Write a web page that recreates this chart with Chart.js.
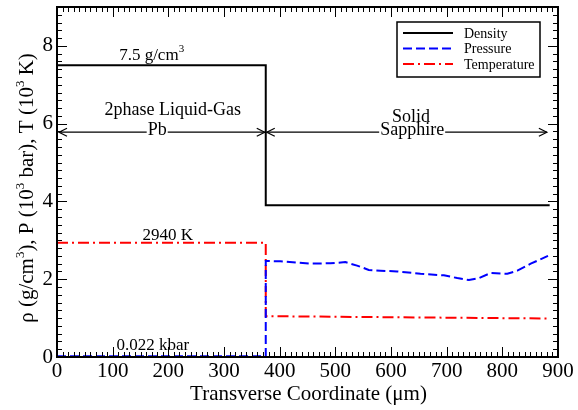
<!DOCTYPE html>
<html>
<head>
<meta charset="utf-8">
<script src="https://cdn.jsdelivr.net/npm/chart.js@4.4.1/dist/chart.umd.min.js"></script>
<style>
  html, body { margin: 0; padding: 0; background: #fff; }
  #wrap { width: 578px; height: 410px; }
</style>
</head>
<body>
<div id="wrap"><canvas id="chart" width="578" height="410"></canvas></div>
<script>
// values (x in um, y in g/cm3, 10^3 bar, 10^3 K)
const densityX = [0, 375, 375, 885];
const densityY = [7.5, 7.5, 3.9, 3.9];

const pressureX = [0, 375, 375, 401, 455, 491, 518, 539, 560, 581, 611, 653, 695, 719, 740, 758, 779, 809, 827, 851, 882];
const pressureY = [0.022, 0.022, 2.47, 2.46, 2.40, 2.41, 2.44, 2.35, 2.24, 2.22, 2.20, 2.14, 2.10, 2.03, 1.98, 2.03, 2.16, 2.14, 2.22, 2.40, 2.60];

const tempX = [0, 375, 375, 880];
const tempY = [2.94, 2.94, 1.05, 0.99];

const xTicks = [0, 100, 200, 300, 400, 500, 600, 700, 800, 900];
const yTicks = [0, 2, 4, 6, 8];

const SERIF = '"Liberation Serif", "Times New Roman", serif';

function pts(xs, ys) {
    return xs.map((v, i) => ({ x: v, y: ys[i] }));
}

// draw a text made of pieces, some of them superscript
function richText(ctx, parts, cx, cy, size) {
    const supSize = Math.round(size * 0.62);
    let total = 0;
    parts.forEach(p => {
        ctx.font = (p[1] ? supSize : size) + 'px ' + SERIF;
        total += ctx.measureText(p[0]).width;
    });
    let px = cx - total / 2;
    ctx.textAlign = 'left';
    ctx.textBaseline = 'alphabetic';
    parts.forEach(p => {
        ctx.font = (p[1] ? supSize : size) + 'px ' + SERIF;
        ctx.fillText(p[0], px, p[1] ? cy - size * 0.45 : cy);
        px += ctx.measureText(p[0]).width;
    });
}

function arrowHead(ctx, x, y, dir) {
    ctx.beginPath();
    ctx.moveTo(x - dir * 8, y - 4);
    ctx.lineTo(x, y);
    ctx.lineTo(x - dir * 8, y + 4);
    ctx.stroke();
}

const overlay = {
    id: 'overlay',
    afterDatasetsDraw(chart) {
        const { ctx, chartArea: a, scales: { x, y } } = chart;
        ctx.save();
        ctx.strokeStyle = '#000';
        ctx.fillStyle = '#000';

        // inside ticks on all four sides
        ctx.lineWidth = 1;
        ctx.beginPath();
        for (let v = 0; v <= 900; v += 10) {
            const px = Math.round(x.getPixelForValue(v)) + 0.5;
            const len = v % 100 === 0 ? 10 : 5;
            ctx.moveTo(px, a.bottom); ctx.lineTo(px, a.bottom - len);
            ctx.moveTo(px, a.top); ctx.lineTo(px, a.top + len);
        }
        for (let k = 0; k <= 45; k++) {
            const v = k * 0.2;
            const py = Math.round(y.getPixelForValue(v)) + 0.5;
            const len = k % 10 === 0 ? 10 : 5;
            ctx.moveTo(a.left, py); ctx.lineTo(a.left + len, py);
            ctx.moveTo(a.right, py); ctx.lineTo(a.right - len, py);
        }
        ctx.stroke();

        // frame
        ctx.lineWidth = 2;
        ctx.strokeRect(a.left, a.top, a.right - a.left, a.bottom - a.top);

        // arrows for the two regions
        const ay = y.getPixelForValue(5.78);
        const xl = x.getPixelForValue(0) + 2;
        const xm = x.getPixelForValue(375);
        const xr = x.getPixelForValue(880);
        ctx.lineWidth = 1.2;
        ctx.beginPath();
        ctx.moveTo(xl, ay); ctx.lineTo(xm - 1, ay);
        ctx.moveTo(xm + 1, ay); ctx.lineTo(xr, ay);
        ctx.stroke();
        arrowHead(ctx, xl, ay, -1);
        arrowHead(ctx, xm - 1, ay, 1);
        arrowHead(ctx, xm + 1, ay, -1);
        arrowHead(ctx, xr, ay, 1);

        // labels with white behind where they sit on the arrows
        const label = (txt, vx, vy, size, blank) => {
            ctx.font = size + 'px ' + SERIF;
            const px = x.getPixelForValue(vx), py = y.getPixelForValue(vy);
            if (blank) {
                const w = ctx.measureText(txt).width;
                ctx.fillStyle = '#fff';
                ctx.fillRect(px - w / 2 - 1, py - size * 0.7, w + 2, size * 0.75);
                ctx.fillStyle = '#000';
            }
            ctx.textAlign = 'center';
            ctx.textBaseline = 'alphabetic';
            ctx.fillText(txt, px, py);
        };
        label('2phase Liquid-Gas', 208, 6.22, 18, false);
        label('Pb', 180, 5.71, 18, true);
        label('Solid', 636, 6.04, 18, false);
        label('Sapphire', 638, 5.71, 18, true);
        label('2940 K', 199, 3.01, 17, false);
        label('0.022 kbar', 172, 0.18, 17, false);
        richText(ctx, [['7.5 g/cm', false], ['3', true]], x.getPixelForValue(170), y.getPixelForValue(7.64), 17);

        // legend box
        const lx = 397, ly = 22, lw = 143, lh = 55;
        ctx.fillStyle = '#fff';
        ctx.fillRect(lx, ly, lw, lh);
        ctx.lineWidth = 1.5;
        ctx.strokeStyle = '#000';
        ctx.strokeRect(lx, ly, lw, lh);
        chart.data.datasets.forEach((ds, i) => {
            const ry = ly + 11 + i * 15.5;
            ctx.save();
            ctx.strokeStyle = ds.borderColor;
            ctx.lineWidth = ds.borderWidth;
            ctx.setLineDash(ds.borderDash || []);
            ctx.beginPath();
            ctx.moveTo(lx + 6, ry); ctx.lineTo(lx + 56, ry);
            ctx.stroke();
            ctx.restore();
            ctx.fillStyle = '#000';
            ctx.font = '14px ' + SERIF;
            ctx.textAlign = 'left';
            ctx.textBaseline = 'middle';
            ctx.fillText(ds.label, lx + 67, ry + 1);
        });

        // axis titles
        ctx.fillStyle = '#000';
        ctx.textAlign = 'center';
        ctx.textBaseline = 'alphabetic';
        ctx.font = '21px ' + SERIF;
        ctx.fillText('Transverse Coordinate (\u03bcm)', (a.left + a.right) / 2 + 1, 400);

        ctx.save();
        ctx.translate(33, 188);
        ctx.rotate(-Math.PI / 2);
        richText(ctx, [
            ['\u03c1 (g/cm', false], ['3', true], ['), P (10', false], ['3', true],
            [' bar), T (10', false], ['3', true], [' K)', false]
        ], 0, 0, 21);
        ctx.restore();

        ctx.restore();
    }
};

new Chart(document.getElementById('chart'), {
    type: 'line',
    data: {
        datasets: [
            { label: 'Density', data: pts(densityX, densityY), borderColor: '#000000', borderWidth: 2 },
            { label: 'Pressure', data: pts(pressureX, pressureY), borderColor: '#0000ff', borderWidth: 2, borderDash: [9, 4] },
            { label: 'Temperature', data: pts(tempX, tempY), borderColor: '#ff0000', borderWidth: 2, borderDash: [11, 4, 2, 4] }
        ]
    },
    options: {
        responsive: false,
        animation: false,
        elements: { point: { radius: 0 }, line: { tension: 0, fill: false } },
        layout: { padding: { left: 0, right: 20, top: 7, bottom: 0 } },
        plugins: { legend: { display: false }, tooltip: { enabled: false } },
        scales: {
            x: {
                type: 'linear', min: 0, max: 900,
                afterBuildTicks: s => { s.ticks = xTicks.map(v => ({ value: v })); },
                afterFit: s => { s.height = 53; s.paddingLeft = 0; s.paddingRight = 0; },
                grid: { display: false, drawTicks: false },
                border: { display: false },
                ticks: { color: '#000', padding: 2, maxRotation: 0, font: { family: SERIF, size: 21 } }
            },
            y: {
                type: 'linear', min: 0, max: 9,
                afterBuildTicks: s => { s.ticks = yTicks.map(v => ({ value: v })); },
                afterFit: s => { s.width = 57; s.paddingTop = 0; s.paddingBottom = 0; },
                grid: { display: false, drawTicks: false },
                border: { display: false },
                ticks: { color: '#000', padding: 4, font: { family: SERIF, size: 21 } }
            }
        }
    },
    plugins: [overlay]
});
</script>
</body>
</html>
